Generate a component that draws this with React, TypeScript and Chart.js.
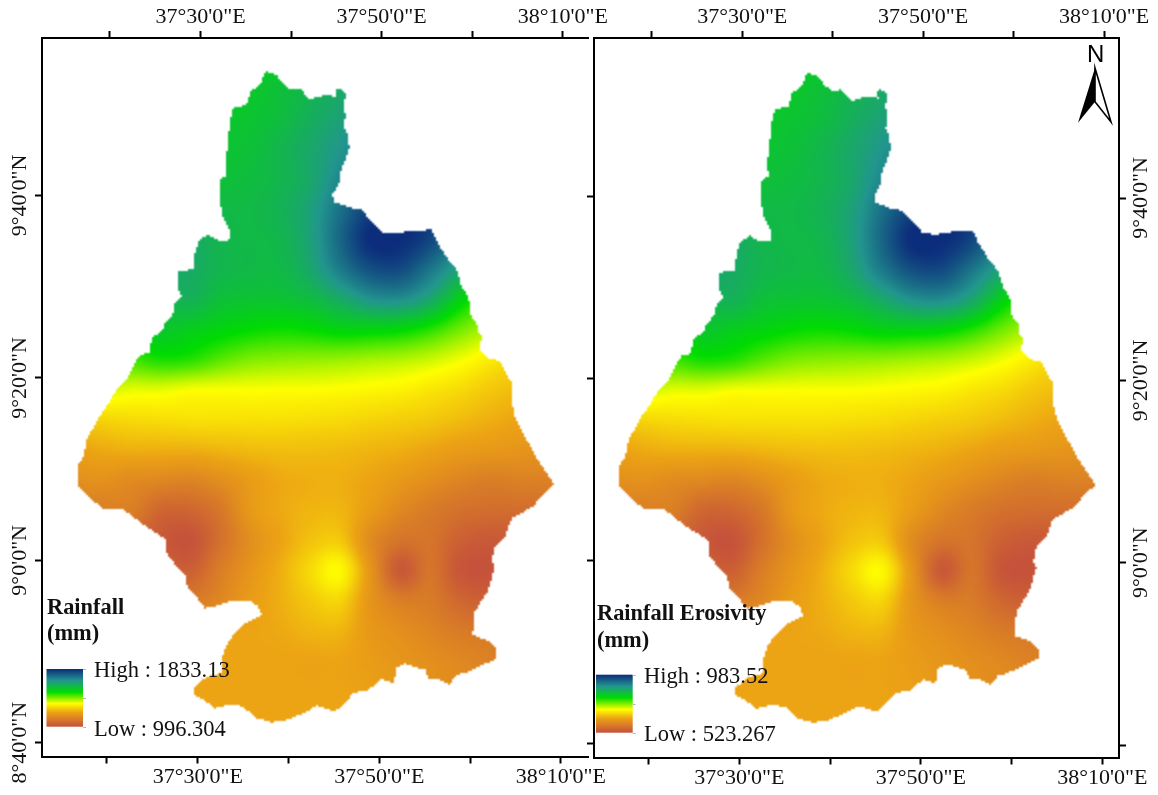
import React, { useEffect, useRef } from "react";
import { Chart, registerables } from "chart.js";

Chart.register(...registerables);

const SERIF = '"Liberation Serif", "Times New Roman", serif';

// Axis ticks: arc-minutes east of 37 deg E and north of 9 deg N
const lonTicks = [20, 30, 40, 50, 60, 70];
const lonTickLabels = ["", "37°30'0\"E", "", "37°50'0\"E", "", "38°10'0\"E"];
const latTicks = [-20, 0, 20, 40];
const latTickLabels = ["8°40'0\"N", "9°0'0\"N", "9°20'0\"N", "9°40'0\"N"];
const latTickLabelsRight = ["", "9°0'0\"N", "9°20'0\"N", "9°40'0\"N"];

// Sample positions of the surface (arc-minutes)
const gridLons = [16, 19.3, 22.6, 25.9, 29.2, 32.5, 35.8, 39.1, 42.4, 45.7, 49, 52.3, 55.6, 58.9, 62.2, 65.5, 68.8, 72.1];
const gridLats = [55, 51.7, 48.4, 45.1, 41.8, 38.5, 35.2, 31.9, 28.6, 25.3, 22, 18.7, 15.4, 12.1, 8.8, 5.5, 2.2, -1.1, -4.4, -7.7, -11, -14.3, -17.6, -20.9];

const surfaceLevels = [
  [65, 65, 65, 65, 65, 65, 65, 65, 67, 70, 73, 75, 77, 78, 78, 78, 78, 78],
  [65, 65, 65, 65, 65, 65, 66, 68, 71, 74, 77, 80, 82, 82, 82, 82, 82, 82],
  [65, 65, 65, 65, 65, 66, 67, 69, 73, 77, 81, 84, 86, 86, 85, 85, 85, 85],
  [66, 66, 66, 66, 66, 67, 68, 71, 75, 80, 85, 88, 88, 87, 85, 84, 84, 84],
  [68, 68, 68, 68, 68, 68, 69, 71, 75, 83, 90, 93, 92, 88, 85, 83, 83, 83],
  [70, 70, 70, 70, 70, 70, 70, 72, 77, 87, 96, 99, 96, 88, 82, 80, 78, 78],
  [74, 74, 74, 74, 74, 71, 70, 71, 77, 89, 100, 100, 95, 84, 76, 72, 70, 70],
  [75, 75, 75, 75, 74, 71, 70, 70, 75, 85, 93, 94, 86, 76, 68, 64, 62, 62],
  [72, 70, 68, 70, 72, 68, 67, 67, 69, 74, 80, 81, 75, 63, 54, 50, 48, 48],
  [68, 65, 62, 66, 64, 62, 60, 59, 60, 62, 62, 61, 57, 51, 46, 42, 40, 40],
  [55, 55, 55, 58, 57, 53, 50, 49, 48.5, 48, 47, 46, 44, 41, 37, 33, 31, 31],
  [44, 44, 42, 42, 40.5, 40.3, 40.2, 40, 40, 39.5, 38.8, 38, 36, 34, 31, 29, 27, 27],
  [31, 33, 34, 34.5, 35, 35, 35, 35, 34.5, 34, 33, 32, 31, 29, 27, 25, 24, 24],
  [24, 26, 27, 27, 27, 28, 29, 29.5, 29.5, 29, 28, 27, 25, 23, 22, 21, 20, 20],
  [19, 20, 18, 17, 16, 19, 23, 26, 27, 27, 25, 22, 19, 16, 14, 15, 15, 15],
  [14, 14, 14, 7, 7, 12, 22, 26, 28, 28, 23, 17, 13, 10, 9, 9, 9, 9],
  [14, 12, 8, 3, 1, 10, 19, 25, 30, 31, 18, 11, 11, 5, 3, 4, 6, 6],
  [10, 10, 9, 7, 5, 14, 21, 27, 34, 39, 21, 3, 11, 2, 1, 4, 6, 6],
  [15, 15, 15, 14, 13, 17, 23, 27, 31, 33, 21, 14, 13, 7, 5, 8, 9, 9],
  [22, 22, 22, 22, 23, 24, 25, 26, 28, 28, 22, 19, 16, 13, 12, 12, 12, 12],
  [25, 25, 25, 25, 25, 25, 25, 25, 25, 25, 23, 21, 19, 17, 15, 14, 14, 14],
  [25, 25, 25, 25, 25, 25, 25, 25, 25, 25, 24, 22, 20, 18, 16, 15, 15, 15],
  [25, 25, 25, 25, 25, 25, 25, 25, 25, 25, 24, 23, 21, 19, 18, 17, 17, 17],
  [25, 25, 25, 25, 25, 25, 25, 25, 25, 25, 25, 24, 22, 20, 19, 18, 18, 18],
];

// Basin boundary as [lon, lat] in arc-minutes
const basinOutline = [
  [37.52, 53.67], [38.7, 53.16], [39.5, 52.14], [40.35, 51.59], [41.27, 51.77], [42.37, 50.42], [42.81, 50.68],
  [43.65, 50.93], [44.39, 51.01], [45.3, 50.79], [45.12, 51.52], [45.6, 51.77], [46.3, 51.23], [46.11, 49.95],
  [46.26, 48.85], [46.15, 47.57], [46.48, 46.66], [46.7, 45.3], [46.33, 44.1], [45.85, 43], [45.6, 42.27],
  [45.6, 41.54], [45.3, 40.81], [44.86, 40.26], [44.94, 39.35], [46.77, 38.69], [48.06, 38.43], [48.79, 37.52],
  [49.53, 36.79], [50.26, 35.95], [51.91, 35.87], [53.56, 36.17], [55.77, 36.24], [56.32, 34.96], [57.6, 32.95],
  [58.52, 31.85], [59.07, 30.03], [59.8, 28.93], [60.06, 26.92], [60.72, 26.01], [60.91, 24.91], [61.27, 24.54],
  [61.09, 23.15], [62.01, 22.17], [63.37, 21.8], [64.03, 20.34], [64.61, 19.43], [64.61, 17.23], [64.94, 15.77],
  [66.05, 13.58], [67.33, 11.2], [69.24, 8.35], [67.88, 7.07], [66.96, 5.9], [64.58, 4.62], [63.84, 2.61],
  [62.74, 1.52], [62.38, -0.13], [62.74, -0.68], [62.01, -3.23], [61.46, -4.15], [60.54, -5.61], [60.28, -8.17],
  [62.19, -8.9], [62.93, -9.63], [62.93, -10.73], [61.82, -11.28], [59.44, -12.37], [58.52, -12.55], [57.71, -13.65],
  [56.69, -13.1], [55.4, -12.92], [55.03, -12.01], [52.83, -11.35], [51.91, -11.82], [51.62, -13.47], [50.26, -13.03],
  [48.79, -14.2], [47.14, -14.57], [46.04, -15.84], [45.12, -16.57], [44.02, -16.21], [43.1, -15.95], [41.63, -16.76],
  [39.8, -17.49], [38.15, -17.78], [36.49, -17.31], [35.58, -16.57], [35.03, -16.03], [33.56, -15.84], [31.9, -16.21],
  [30.62, -15.3], [29.52, -14.75], [29.52, -14.02], [30.99, -12.74], [32.71, -12.37], [32.71, -10.54], [33.19, -9.27],
  [33.92, -8.17], [35.03, -7.07], [37.04, -5.98], [36.68, -5.06], [35.76, -4.4], [33.92, -4.4], [32.09, -4.99],
  [30.8, -5.24], [29.7, -3.78], [28.86, -3.05], [28.71, -1.77], [27.68, -0.68], [26.58, 0.79], [26.58, 2.25],
  [24.01, 3.89], [21.81, 5.61], [19.42, 5.72], [17.59, 7.37], [16.85, 8.1], [16.74, 10.36], [17.4, 11.39],
  [17.77, 13.21], [19.06, 15.59], [20.16, 17.23], [21.08, 18.7], [22.18, 19.79], [23.28, 21.99], [23.65, 22.53],
  [24.67, 22.79], [24.93, 24.36], [26.03, 25.09], [26.4, 26.01], [27.32, 27.1], [27.5, 28.2], [28.24, 29],
  [27.79, 29.66], [27.79, 31.67], [29.52, 31.93], [29.7, 33.68], [30.18, 35.14], [31.17, 35.69], [32.46, 35.03],
  [33.45, 35.14], [33.45, 36.42], [32.75, 37.7], [32.46, 39.16], [32.46, 41.72], [33.19, 42.27], [33.12, 43.99],
  [33.37, 46.29], [33.56, 48.12], [33.92, 49.58], [35.39, 49.95], [35.83, 51.41], [36.86, 52.14],
];

// Colour ramp: level, colour
const rampLevels = [0, 25, 40, 60, 80, 100];
const rampColors = [[196, 80, 60], [236, 163, 20], [255, 255, 0], [0, 220, 0], [34, 150, 142], [12, 44, 124]];

const leftLegend = { title: ["Rainfall", "(mm)"], high: "High : 1833.13", low: "Low : 996.304" };
const rightLegend = { title: ["Rainfall Erosivity", "(mm)"], high: "High : 983.52", low: "Low : 523.267" };

function rampColor(t: number) {
  const v = Math.max(0, Math.min(100, t));
  let i = 0;
  while (i < rampLevels.length - 2 && v > rampLevels[i + 1]) i++;
  const f = (v - rampLevels[i]) / (rampLevels[i + 1] - rampLevels[i]);
  return rampColors[i].map((c, k) => c + (rampColors[i + 1][k] - c) * f);
}

function cubic(a: number, b: number, c: number, d: number, t: number) {
  return 0.5 * (2 * b + (c - a) * t + (2 * a - 5 * b + 4 * c - d) * t * t + (3 * b - a - 3 * c + d) * t * t * t);
}

const surfacePlugin = {
  id: "surface",
  beforeDatasetsDraw(chart: any) {
    const nc = gridLons.length;
    const nr = gridLats.length;
    const cells = chart.getDatasetMeta(0).data;
    const poly = chart.getDatasetMeta(1).data.map((p: any) => [p.x, p.y]);
    const x0 = cells[0].x;
    const y0 = cells[0].y;
    const dx = (cells[nc - 1].x - x0) / (nc - 1);
    const dy = (cells[(nr - 1) * nc].y - y0) / (nr - 1);
    const xs = poly.map((p: number[]) => p[0]);
    const ys = poly.map((p: number[]) => p[1]);
    const minX = Math.floor(Math.min(...xs)) - 3;
    const minY = Math.floor(Math.min(...ys)) - 3;
    const step = 2;
    const W = Math.ceil((Math.max(...xs) + 3 - minX) / step);
    const H = Math.ceil((Math.max(...ys) + 3 - minY) / step);
    const off = document.createElement("canvas");
    off.width = W;
    off.height = H;
    const octx = off.getContext("2d")!;
    const img = octx.createImageData(W, H);
    const at = (r: number, c: number) =>
      surfaceLevels[Math.max(0, Math.min(nr - 1, r))][Math.max(0, Math.min(nc - 1, c))];
    for (let j = 0; j < H; j++) {
      const py = minY + (j + 0.5) * step;
      for (let i = 0; i < W; i++) {
        const px = minX + (i + 0.5) * step;
        let inside = false;
        for (let a = 0, b = poly.length - 1; a < poly.length; b = a++) {
          const [ax, ay] = poly[a];
          const [bx, by] = poly[b];
          if (ay > py !== by > py && px < ((bx - ax) * (py - ay)) / (by - ay) + ax) inside = !inside;
        }
        if (!inside) continue;
        const gx = (px - x0) / dx;
        const gy = (py - y0) / dy;
        const c = Math.floor(gx);
        const r = Math.floor(gy);
        const tx = gx - c;
        const tyy = gy - r;
        const rows = [-1, 0, 1, 2].map((o) =>
          cubic(at(r + o, c - 1), at(r + o, c), at(r + o, c + 1), at(r + o, c + 2), tx)
        );
        const col = rampColor(cubic(rows[0], rows[1], rows[2], rows[3], tyy));
        const k = (j * W + i) * 4;
        img.data[k] = col[0];
        img.data[k + 1] = col[1];
        img.data[k + 2] = col[2];
        img.data[k + 3] = 255;
      }
    }
    octx.putImageData(img, 0, 0);
    const ctx = chart.ctx;
    ctx.save();
    ctx.imageSmoothingEnabled = true;
    ctx.drawImage(off, minX, minY, W * step, H * step);
    ctx.restore();
  },
};

function drawLegend(ctx: any, lg: any, box: any) {
  ctx.save();
  ctx.fillStyle = "#111";
  ctx.textAlign = "left";
  ctx.textBaseline = "alphabetic";
  ctx.font = `bold 22.4px ${SERIF}`;
  ctx.fillText(lg.title[0], box.titleX, box.title0);
  ctx.fillText(lg.title[1], box.titleX, box.title1);
  const g = ctx.createLinearGradient(0, box.top, 0, box.bottom);
  rampLevels.forEach((lv, i) => {
    const c = rampColors[i];
    g.addColorStop(1 - lv / 100, `rgb(${c[0]},${c[1]},${c[2]})`);
  });
  ctx.fillStyle = g;
  ctx.fillRect(box.left, box.top, box.right - box.left, box.bottom - box.top);
  ctx.strokeStyle = "#b8b8b8";
  ctx.lineWidth = 1;
  [box.top, (box.top + box.bottom) / 2, box.bottom].forEach((y: number) => {
    ctx.beginPath();
    ctx.moveTo(box.right, Math.round(y) + 0.5);
    ctx.lineTo(box.right + 3, Math.round(y) + 0.5);
    ctx.stroke();
  });
  ctx.fillStyle = "#111";
  ctx.font = `22.5px ${SERIF}`;
  ctx.fillText(lg.high, box.textX, box.highY);
  ctx.fillText(lg.low, box.textX, box.lowY);
  ctx.restore();
}

function drawNorth(ctx: any) {
  ctx.save();
  ctx.fillStyle = "#000";
  ctx.textAlign = "center";
  ctx.textBaseline = "alphabetic";
  ctx.font = `24px "Liberation Sans", Arial, sans-serif`;
  ctx.fillText("N", 1095.7, 62);
  ctx.beginPath();
  ctx.moveTo(1095, 68);
  ctx.lineTo(1078, 122.7);
  ctx.lineTo(1095, 101.7);
  ctx.closePath();
  ctx.fill();
  ctx.fillStyle = "#fff";
  ctx.strokeStyle = "#000";
  ctx.lineWidth = 1.6;
  ctx.lineJoin = "miter";
  ctx.beginPath();
  ctx.moveTo(1095, 68);
  ctx.lineTo(1111, 122);
  ctx.lineTo(1095, 101.7);
  ctx.closePath();
  ctx.fill();
  ctx.stroke();
  ctx.restore();
}

function axisBase(extra: any, fixed: number, tickList: number[], labels: string[]) {
  return {
    type: "linear",
    grid: { drawOnChartArea: false, drawTicks: true, tickLength: 7, tickColor: "#000", tickWidth: 2 },
    border: { display: true, color: "#000", width: 2 },
    afterBuildTicks: (s: any) => {
      s.ticks = tickList.map((v) => ({ value: v }));
    },
    afterFit: (s: any) => {
      if (s.isHorizontal()) s.height = fixed;
      else s.width = fixed;
    },
    ...extra,
    ticks: {
      autoSkip: false,
      color: "#111",
      font: { family: SERIF, size: 22 },
      callback: (_v: any, i: number) => labels[i],
      ...extra.ticks,
    },
  };
}

function makeConfig(opts: any) {
  const cells: any[] = [];
  gridLats.forEach((la, r) =>
    gridLons.forEach((lo, c) => cells.push({ x: lo, y: la, level: surfaceLevels[r][c] }))
  );
  return {
    type: "scatter",
    data: {
      datasets: [
        { label: "Surface", data: cells, pointRadius: 0, pointHoverRadius: 0 },
        { label: "Basin", data: basinOutline.map(([x, y]) => ({ x, y })), pointRadius: 0, pointHoverRadius: 0 },
      ],
    },
    options: {
      animation: false,
      responsive: false,
      events: [],
      layout: { padding: opts.padding },
      plugins: { legend: { display: false }, tooltip: { enabled: false } },
      scales: opts.scales,
    },
    plugins: [surfacePlugin, { id: "decor", afterDraw: opts.decor }],
  } as any;
}

const hTicks = { maxRotation: 0, minRotation: 0, padding: 1 };

const leftConfig = () =>
  makeConfig({
    padding: { left: 0, right: 570, top: 0, bottom: 0 },
    scales: {
      x: axisBase({ min: 12.85, max: 72.98, position: "bottom", ticks: hTicks }, 38.5, lonTicks, lonTickLabels),
      x2: axisBase({ min: 12.5, max: 72.79, position: "top", axis: "x", ticks: hTicks }, 38, lonTicks, lonTickLabels),
      y: axisBase(
        { min: -21.51, max: 57.27, position: "left", ticks: { minRotation: 90, maxRotation: 90, crossAlign: "center", padding: -26 } },
        42,
        latTicks,
        latTickLabels
      ),
    },
    decor: (chart: any) =>
      drawLegend(chart.ctx, leftLegend, {
        titleX: 47, title0: 614, title1: 640, left: 46.5, right: 83, top: 669, bottom: 726.7, textX: 94, highY: 677, lowY: 735.7,
      }),
  });

const rightConfig = () =>
  makeConfig({
    padding: { left: 0, right: 0, top: 0, bottom: 0 },
    scales: {
      x: axisBase({ min: 13.99, max: 71.84, position: "bottom", ticks: hTicks }, 37.5, lonTicks, lonTickLabels),
      x2: axisBase({ min: 13.62, max: 71.64, position: "top", axis: "x", ticks: hTicks }, 38, lonTicks, lonTickLabels),
      y: axisBase(
        { min: -21.59, max: 57.43, position: "left", ticks: { display: false } },
        594,
        latTicks,
        latTickLabels
      ),
      y2: axisBase(
        { min: -21.37, max: 57.55, position: "right", axis: "y", ticks: { minRotation: 90, maxRotation: 90, crossAlign: "center", padding: -26 } },
        39,
        latTicks,
        latTickLabelsRight
      ),
    },
    decor: (chart: any) => {
      drawLegend(chart.ctx, rightLegend, {
        titleX: 597, title0: 620, title1: 646.7, left: 596, right: 632.7, top: 674.7, bottom: 732.7, textX: 644, highY: 683, lowY: 740.7,
      });
      drawNorth(chart.ctx);
    },
  });

const canvasStyle: React.CSSProperties = { position: "absolute", left: 0, top: 0, display: "block" };

export default function App() {
  const leftRef = useRef<HTMLCanvasElement>(null);
  const rightRef = useRef<HTMLCanvasElement>(null);
  useEffect(() => {
    const a = new Chart(leftRef.current!, leftConfig());
    const b = new Chart(rightRef.current!, rightConfig());
    return () => {
      a.destroy();
      b.destroy();
    };
  }, []);
  return (
    <div style={{ position: "absolute", left: 0, top: 0, width: 1158, height: 795, overflow: "hidden", background: "#fff" }}>
      <canvas ref={leftRef} width={1158} height={795} style={canvasStyle} />
      <canvas ref={rightRef} width={1158} height={795} style={canvasStyle} />
    </div>
  );
}
